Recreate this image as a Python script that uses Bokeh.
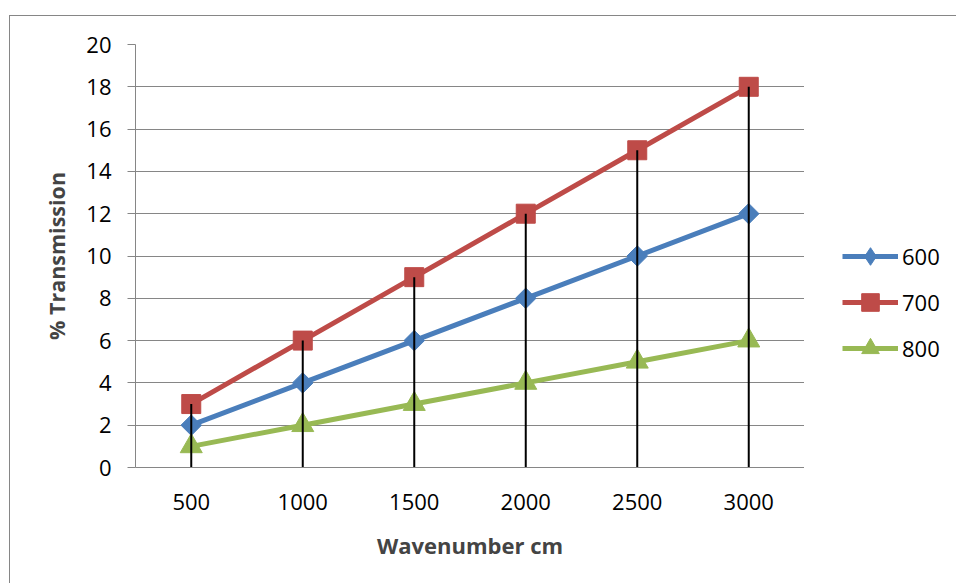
import numpy as np
from bokeh.plotting import figure
from bokeh.layouts import row
from bokeh.models import FactorRange, Range1d, FixedTicker, Legend, LegendItem, ColumnDataSource
from bokeh.embed import file_html
from bokeh.resources import INLINE

# ---- data ----
categories = ["500", "1000", "1500", "2000", "2500", "3000"]
series_names = ["600", "700", "800"]
values_600 = [2, 4, 6, 8, 10, 12]
values_700 = [3, 6, 9, 12, 15, 18]
values_800 = [1, 2, 3, 4, 5, 6]
y_ticks = [0, 2, 4, 6, 8, 10, 12, 14, 16, 18, 20]
x_title = "Wavenumber cm"
y_title = "% Transmission"

FONT = "Open Sans"
GRAY = "#868686"
colors = ["#4A7EBB", "#BE4B48", "#98B954"]
markers = ["square", "square", "triangle"]
legend_markers = ["diamond", "square", "triangle"]
angles = [np.pi / 4, 0, 0]
msizes = [14.5, 19, 22]

p = figure(
    width=794, height=567,
    x_range=FactorRange(*categories, range_padding=0),
    y_range=Range1d(0, 20),
    output_backend="svg", toolbar_location=None,
    min_border_left=125, min_border_right=0,
    min_border_top=28, min_border_bottom=116,
)
p.outline_line_color = None
p.background_fill_color = "white"
p.border_fill_color = "white"

p.xgrid.grid_line_color = None
p.ygrid.grid_line_color = GRAY
p.ygrid.grid_line_width = 1
p.yaxis.ticker = FixedTicker(ticks=y_ticks)
p.yaxis.minor_tick_line_color = None
p.yaxis.major_tick_out = 8
p.yaxis.major_tick_in = 0
p.yaxis.major_tick_line_color = GRAY
p.yaxis.axis_line_color = GRAY
p.yaxis.major_label_standoff = 16
p.yaxis.major_label_text_font = FONT
p.yaxis.major_label_text_font_size = "22px"
p.yaxis.major_label_text_color = "black"
p.yaxis.axis_label = y_title
p.yaxis.axis_label_text_font = FONT
p.yaxis.axis_label_text_font_style = "bold"
p.yaxis.axis_label_text_font_size = "21.5px"
p.yaxis.axis_label_standoff = 12

p.xaxis.major_tick_line_color = None
p.xaxis.major_tick_out = 0
p.xaxis.major_tick_in = 0
p.xaxis.axis_line_color = GRAY
p.xaxis.major_label_standoff = 26
p.xaxis.major_label_text_font = FONT
p.xaxis.major_label_text_font_size = "22px"
p.xaxis.major_label_text_color = "black"
p.xaxis.axis_label = x_title
p.xaxis.axis_label_text_font = FONT
p.xaxis.axis_label_text_font_style = "bold"
p.xaxis.axis_label_text_font_size = "22px"
p.xaxis.axis_label_standoff = 17

# side figure that only holds the legend
pl = figure(
    width=152, height=567,
    x_range=FactorRange(*categories, range_padding=0),
    y_range=Range1d(0, 20),
    output_backend="svg", toolbar_location=None,
    x_axis_type=None, y_axis_type=None,
    min_border_left=0, min_border_right=0, min_border_top=0, min_border_bottom=0,
)
pl.outline_line_color = None
pl.grid.grid_line_color = None
pl.background_fill_color = "white"
pl.border_fill_color = "white"

all_series = [values_600, values_700, values_800]
items = []
for name, vals, c, m, lm, a, s in zip(series_names, all_series, colors, markers,
                                      legend_markers, angles, msizes):
    src = ColumnDataSource(dict(x=categories, y=vals))
    p.line("x", "y", source=src, line_color=c, line_width=5)
    p.scatter("x", "y", source=src, marker=m, angle=a, size=s, fill_color=c, line_color=c)
    # legend proxies (hidden in the side figure, only drawn in its legend)
    lr = pl.line("x", "y", source=src, line_color=c, line_width=5, visible=False)
    sr = pl.scatter("x", "y", source=src, marker=lm, size=s,
                    fill_color=c, line_color=c, visible=False)
    items.append(LegendItem(label=name, renderers=[lr, sr]))

# drop lines from the highest point in each category down to the axis
tops = [max(v) for v in zip(*all_series)]
p.segment(x0=categories, y0=[0] * len(categories), x1=categories, y1=tops,
          line_color="black", line_width=2)

legend = Legend(items=items, location=(38, 97), orientation="vertical")
legend.border_line_color = None
legend.background_fill_alpha = 0
legend.inactive_fill_alpha = 0
legend.padding = 0
legend.margin = 0
legend.spacing = 2
legend.glyph_width = 56
legend.glyph_height = 44
legend.label_height = 44
legend.label_standoff = 4
legend.label_text_font = FONT
legend.label_text_font_size = "22px"
legend.label_text_color = "black"
pl.add_layout(legend, "center")

layout = row(p, pl, spacing=0,
             styles={"border-top": "1px solid #868686", "border-left": "1px solid #868686",
                     "margin-left": "9px", "margin-top": "15px"})

open("out.html", "w").write(file_html(layout, INLINE))
